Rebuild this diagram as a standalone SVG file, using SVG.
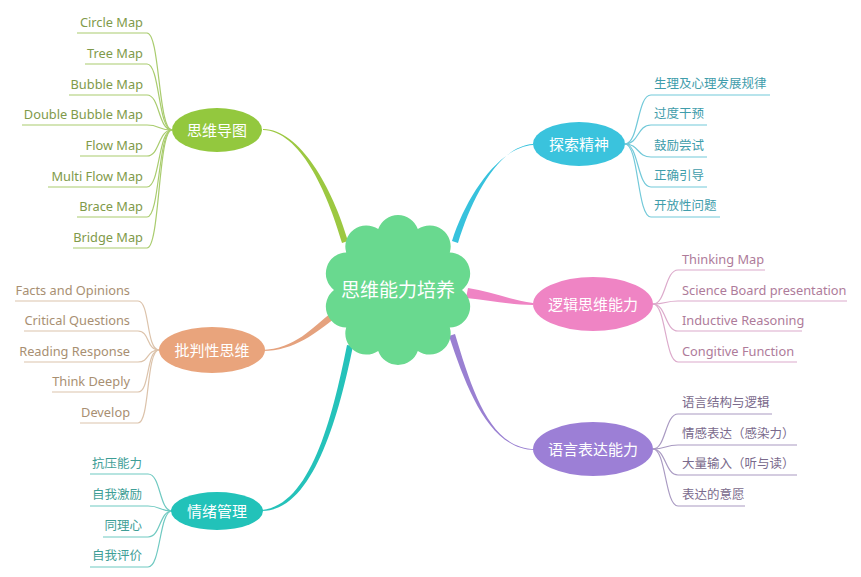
<svg xmlns="http://www.w3.org/2000/svg" width="861" height="577" viewBox="0 0 861 577">
<style>
.en{font-family:"Noto Sans","Noto Sans CJK SC",sans-serif;font-size:12.8px}
.cj{font-family:"Noto Sans CJK SC","Noto Sans",sans-serif;font-size:12.5px}
.l{fill:none;stroke-width:1.2}
.g .l{stroke:#a9cc6e}.g text{fill:#7f9a4a}
.o .l{stroke:#dcc3ab}.o text{fill:#a88f72}
.t .l{stroke:#6fc9c1}.t text{fill:#3e9e96}
.c .l{stroke:#72c9d9}.c text{fill:#3f9dab}
.p .l{stroke:#dcaacb}.p text{fill:#ae7b9a}
.v .l{stroke:#a99ac2}.v text{fill:#7a6a8c}
.L{text-anchor:end}
g text.nt{font-family:"Noto Sans CJK SC","Noto Sans",sans-serif;font-size:15px;fill:#ffffff;text-anchor:middle}
g text.ct{font-family:"Noto Sans CJK SC","Noto Sans",sans-serif;font-size:19px;fill:#ffffff;text-anchor:middle}
</style>
<rect width="861" height="577" fill="#ffffff"/>
<g id="connectors">
<path d="M263,129 C300,129 333,189 348,241 L342,243 C327,191 300,131 263,130 Z" fill="#9cc841"/>
<path d="M533,144 C500,146 473,194 458,243 L452,241 C467,194 500,147 533,145 Z" fill="#37c2dd"/>
<path d="M262,350 C295,349 313,327 331,313 L335,318 C317,332 295,351 262,351 Z" fill="#e5a27e"/>
<path d="M262,510 C310,505 332,420 347,345 L353,346 C338,420 312,511 262,511 Z" fill="#25c2ba"/>
<path d="M535,449 C490,449 472,390 455,334 L449,336 C467,390 490,450 535,450 Z" fill="#9a80d2"/>
<path d="M533,303 C510,300 490,291 468,288 L466,298 C490,300 510,305 533,305 Z" fill="#ef84c4"/>
</g>
<g id="center">
<path d="M378.2,229.1 A21,21 0 0 1 417.8,229.1 A21,21 0 0 1 449.8,252.4 A21,21 0 0 1 462,290 A21,21 0 0 1 449.8,327.6 A21,21 0 0 1 417.8,350.9 A21,21 0 0 1 378.2,350.9 A21,21 0 0 1 346.2,327.6 A21,21 0 0 1 334,290 A21,21 0 0 1 346.2,252.4 A21,21 0 0 1 378.2,229.1 Z" fill="#69d98f"/>
<text class="ct" x="398" y="297">思维能力培养</text>
</g>
<g id="n-siwei" class="g">
<path class="l" d="M172,130 C158,130 160,33 147,33 H77"/>
<path class="l" d="M172,130 C158,130 160,64 147,64 H85"/>
<path class="l" d="M172,130 C158,130 160,95 147,95 H69"/>
<path class="l" d="M172,130 C158,130 160,125 147,125 H22"/>
<path class="l" d="M172,130 C158,130 160,156 147,156 H80"/>
<path class="l" d="M172,130 C158,130 160,187 147,187 H48"/>
<path class="l" d="M172,130 C158,130 160,217 147,217 H77"/>
<path class="l" d="M172,130 C158,130 160,248 147,248 H73"/>
<g class="en L">
<text x="143" y="26.5">Circle Map</text>
<text x="143" y="57.5">Tree Map</text>
<text x="143" y="88.5">Bubble Map</text>
<text x="143" y="118.5">Double Bubble Map</text>
<text x="143" y="149.5">Flow Map</text>
<text x="143" y="180.5">Multi Flow Map</text>
<text x="143" y="210.5">Brace Map</text>
<text x="143" y="241.5">Bridge Map</text>
</g>
<ellipse cx="217" cy="130" rx="45" ry="22" fill="#93c83e"/>
<text class="nt" x="217" y="136">思维导图</text>
</g>
<g id="n-pipan" class="o">
<path class="l" d="M159,350 C146,350 150,301 138,301 H15"/>
<path class="l" d="M159,350 C146,350 150,331 138,331 H24"/>
<path class="l" d="M159,350 C146,350 150,362 138,362 H24"/>
<path class="l" d="M159,350 C146,350 150,392 138,392 H52"/>
<path class="l" d="M159,350 C146,350 150,423 138,423 H80"/>
<g class="en L">
<text x="130" y="294.5">Facts and Opinions</text>
<text x="130" y="324.5">Critical Questions</text>
<text x="130" y="355.5">Reading Response</text>
<text x="130" y="385.5">Think Deeply</text>
<text x="130" y="416.5">Develop</text>
</g>
<ellipse cx="212" cy="350" rx="53" ry="23" fill="#e9a47c"/>
<text class="nt" x="212" y="356">批判性思维</text>
</g>
<g id="n-qingxu" class="t">
<path class="l" d="M172,511 C159,511 161,474 148,474 H90"/>
<path class="l" d="M172,511 C159,511 161,506 148,506 H90"/>
<path class="l" d="M172,511 C159,511 161,537 148,537 H103"/>
<path class="l" d="M172,511 C159,511 161,567 148,567 H90"/>
<g class="cj L">
<text x="142" y="468">抗压能力</text>
<text x="142" y="499">自我激励</text>
<text x="142" y="530">同理心</text>
<text x="142" y="560">自我评价</text>
</g>
<ellipse cx="217" cy="511" rx="46" ry="19" fill="#22c2b9"/>
<text class="nt" x="217" y="517">情绪管理</text>
</g>
<g id="n-tansuo" class="c">
<path class="l" d="M625,144 C639,144 637,95 651,95 H770"/>
<path class="l" d="M625,144 C639,144 637,125 651,125 H707"/>
<path class="l" d="M625,144 C639,144 637,157 651,157 H707"/>
<path class="l" d="M625,144 C639,144 637,187 651,187 H707"/>
<path class="l" d="M625,144 C639,144 637,217 651,217 H720"/>
<g class="cj">
<text x="654" y="88">生理及心理发展规律</text>
<text x="654" y="118">过度干预</text>
<text x="654" y="150">鼓励尝试</text>
<text x="654" y="180">正确引导</text>
<text x="654" y="210">开放性问题</text>
</g>
<ellipse cx="579" cy="144" rx="46" ry="22" fill="#3ac3dd"/>
<text class="nt" x="579" y="150">探索精神</text>
</g>
<g id="n-luoji" class="p">
<path class="l" d="M653,304 C666,304 665,270 678,270 H765"/>
<path class="l" d="M653,304 C666,304 665,301 678,301 H847"/>
<path class="l" d="M653,304 C666,304 665,331 678,331 H802"/>
<path class="l" d="M653,304 C666,304 665,362 678,362 H797"/>
<g class="en">
<text x="682" y="263.5">Thinking Map</text>
<text x="682" y="294.5">Science Board presentation</text>
<text x="682" y="324.5">Inductive Reasoning</text>
<text x="682" y="355.5">Congitive Function</text>
</g>
<ellipse cx="593" cy="304" rx="60" ry="27" fill="#ef84c4"/>
<text class="nt" x="593" y="310">逻辑思维能力</text>
</g>
<g id="n-yuyan" class="v">
<path class="l" d="M653,449 C666,449 665,414 678,414 H772"/>
<path class="l" d="M653,449 C666,449 665,445 678,445 H797"/>
<path class="l" d="M653,449 C666,449 665,475 678,475 H797"/>
<path class="l" d="M653,449 C666,449 665,506 678,506 H745"/>
<g class="cj">
<text x="682" y="407">语言结构与逻辑</text>
<text x="682" y="438">情感表达（感染力）</text>
<text x="682" y="468">大量输入（听与读）</text>
<text x="682" y="499">表达的意愿</text>
</g>
<ellipse cx="593" cy="449" rx="60" ry="27" fill="#9c7fd6"/>
<text class="nt" x="593" y="455">语言表达能力</text>
</g>
</svg>
